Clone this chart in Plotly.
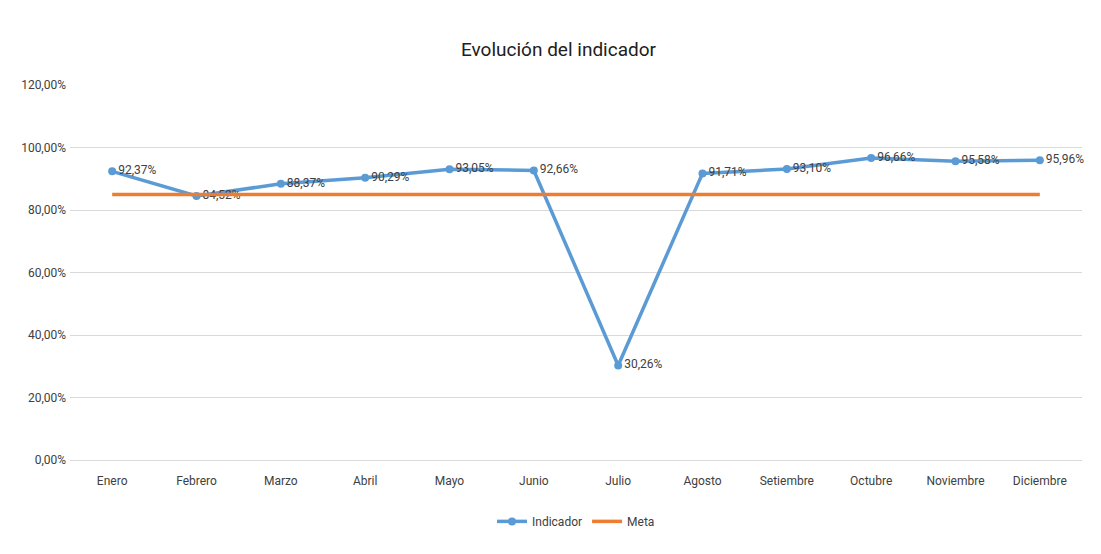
import plotly.graph_objects as go

# Data
MESES = ["Enero", "Febrero", "Marzo", "Abril", "Mayo", "Junio", "Julio",
         "Agosto", "Setiembre", "Octubre", "Noviembre", "Diciembre"]
INDICADOR = [0.9237, 0.8452, 0.8837, 0.9029, 0.9305, 0.9266, 0.3026,
             0.9171, 0.9310, 0.9666, 0.9558, 0.9596]
META = [0.85] * 12

FONT = "Liberation Sans Narrow, Arial Narrow, Roboto, sans-serif"
TEXT_COLOR = "#404040"

fig = go.Figure()

fig.add_trace(go.Scatter(
    x=MESES,
    y=INDICADOR,
    mode="lines+markers+text",
    name="Indicador",
    line=dict(color="#5B9BD5", width=3.5),
    marker=dict(color="#5B9BD5", size=8, symbol="circle"),
    text=[f"{v:.2%}".replace(".", ",") for v in INDICADOR],
    textposition="middle right",
    textfont=dict(size=12, color=TEXT_COLOR, family=FONT),
    cliponaxis=False,
))

fig.add_trace(go.Scatter(
    x=MESES,
    y=META,
    mode="lines",
    name="Meta",
    line=dict(color="#ED7D31", width=3.5),
))

fig.update_layout(
    title=dict(
        text="Evolución del indicador",
        x=0.5, xanchor="center", y=0.925, yanchor="middle",
        font=dict(size=19, color="#202020", family=FONT),
    ),
    separators=",.",
    xaxis=dict(
        type="category",
        range=[-0.5, 11.5],
        showgrid=False,
        showline=False,
        ticks="",
        ticklabelstandoff=12,
        tickfont=dict(size=12, color=TEXT_COLOR, family=FONT),
    ),
    yaxis=dict(
        range=[0, 1.2],
        dtick=0.2,
        tickformat=".2%",
        gridcolor="#D9D9D9",
        gridwidth=1,
        zeroline=True,
        zerolinecolor="#D9D9D9",
        zerolinewidth=1,
        tickfont=dict(size=12, color=TEXT_COLOR, family=FONT),
        ticksuffix=" ",
    ),
    legend=dict(
        orientation="h",
        x=0.5, xanchor="center",
        y=-0.125, yanchor="top",
        font=dict(size=12, color=TEXT_COLOR, family=FONT),
    ),
    plot_bgcolor="white",
    paper_bgcolor="white",
    margin=dict(l=62, r=27, t=77, b=102),
    width=1101,
    height=554,
)

fig.write_html("out.html")
